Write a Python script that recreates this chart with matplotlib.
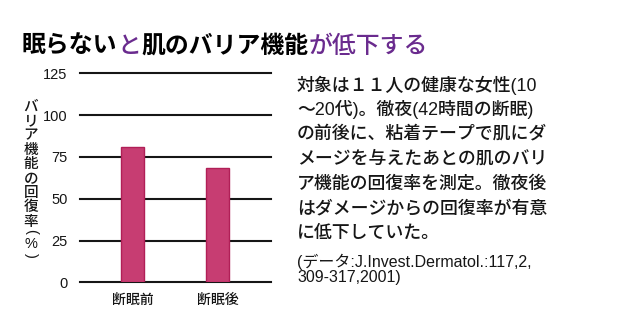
import matplotlib
matplotlib.use("Agg")
import matplotlib.pyplot as plt

plt.rcParams['font.family'] = ['Noto Sans CJK JP', 'DejaVu Sans']

# data
categories = ["断眠前", "断眠後"]
recovery = [81, 68.5]
yticks = [0, 25, 50, 75, 100, 125]

title_parts = [("眠らない", "black", "bold"), ("と", "#6a2b8e", "medium"),
               ("肌のバリア機能", "black", "bold"), ("が低下する", "#6a2b8e", "medium")]
ylabel_chars = list("バリア機能の回復率")
ylabel_unit = ["(", "%", ")"]
body_lines = [
    "対象は１１人の健康な女性(10",
    "〜20代)。徹夜(42時間の断眠)",
    "の前後に、粘着テープで肌にダ",
    "メージを与えたあとの肌のバリ",
    "ア機能の回復率を測定。徹夜後",
    "はダメージからの回復率が有意",
    "に低下していた。",
]
source_lines = ["(データ:J.Invest.Dermatol.:117,2,", "309-317,2001)"]

W, H = 620, 329
fig = plt.figure(figsize=(W / 100, H / 100), dpi=100)
fig.patch.set_facecolor("white")
INK = "#161616"
MIXED = ['Liberation Sans', 'Noto Sans CJK JP']


def fx(px):
    return px / W


def fy(py):
    return 1 - py / H


ax = fig.add_axes([fx(80), fy(282.3), fx(271) - fx(80), fy(73.3) - fy(282.3)])
ax.set_ylim(0, 125)
ax.set_xlim(-0.616, 1.626)
for s in ax.spines.values():
    s.set_visible(False)

for v in yticks:
    ax.axhline(v, color=INK, lw=1.5, zorder=1, clip_on=False)

x = list(range(len(categories)))
ax.bar(x, recovery, width=0.27, color="#c73d72", edgecolor="#b11f57",
       linewidth=1.0, zorder=2)

ax.set_yticks(yticks)
ax.set_yticklabels([str(v) for v in yticks], family="Liberation Sans",
                   fontsize=10.5, color=INK)
ax.set_xticks(x)
ax.set_xticklabels(categories, fontsize=10, weight="medium", color=INK)
ax.tick_params(axis="y", length=0, pad=9)
ax.tick_params(axis="x", length=0, pad=8)

# vertical y-axis label, one upright character per row
for i, ch in enumerate(ylabel_chars):
    fig.text(fx(31), fy(106.7 + 14.4 * i), ch, fontsize=10.5, weight="medium",
             ha="center", va="center", color=INK)
for ch, py, rot in zip(ylabel_unit, [231.5, 243.5, 255.5], [-90, 0, -90]):
    fig.text(fx(31), fy(py), ch, fontsize=10.5, family=MIXED, rotation=rot,
             ha="center", va="center", color=INK, rotation_mode="anchor")

# two-colour title built from consecutive segments
renderer = fig.canvas.get_renderer()
cur_x = fx(22)
for txt, col, wt in title_parts:
    t = fig.text(cur_x, fy(53), txt, fontsize=17.2, color=col, weight=wt,
                 ha="left", va="baseline")
    bb = t.get_window_extent(renderer=renderer)
    cur_x = bb.x1 / fig.dpi / fig.get_figwidth()

# description text block
for i, line in enumerate(body_lines):
    fig.text(fx(297), fy(85 + 24.7 * i), line, fontsize=12.9, weight="medium",
             family=MIXED, ha="left", va="center", color=INK)

for i, line in enumerate(source_lines):
    fig.text(fx(297), fy(262 + 15.5 * i), line, fontsize=11.5, family=MIXED,
             ha="left", va="center", color=INK)

fig.savefig("out.png", dpi=100, facecolor="white")
